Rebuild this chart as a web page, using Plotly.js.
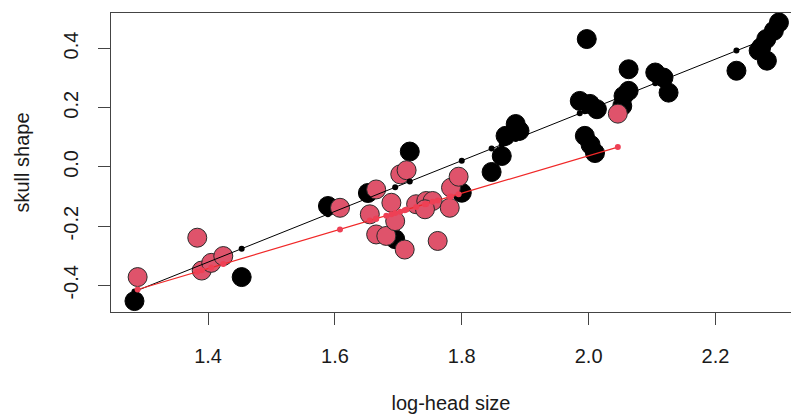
<!DOCTYPE html>
<html>
<head>
<meta charset="utf-8">
<script src="https://cdn.plot.ly/plotly-3.0.1.min.js"></script>
<style>html,body{margin:0;padding:0;background:#fff}#chart{width:791px;height:414px}</style>
</head>
<body>
<div id="chart"></div>
<script>
// Group 1 (black)
const blackX = [1.284, 1.453, 1.589, 1.652, 1.718, 1.695, 1.800, 1.847, 1.863, 1.869, 1.885, 1.891,
  1.986, 2.002, 2.013, 1.994, 2.003, 2.010, 1.997, 2.063, 2.063, 2.055, 2.053, 2.105, 2.118, 2.126,
  2.233, 2.300, 2.292, 2.280, 2.272, 2.281, 2.268];
const blackY = [-0.453, -0.372, -0.132, -0.088, 0.052, -0.244, -0.087, -0.017, 0.037, 0.105, 0.145, 0.122,
  0.223, 0.213, 0.195, 0.105, 0.075, 0.047, 0.432, 0.330, 0.257, 0.240, 0.206, 0.319, 0.302, 0.251,
  0.325, 0.488, 0.460, 0.432, 0.404, 0.359, 0.393];
const blackFit = [-0.421, -0.276, -0.160, -0.106, -0.049, -0.069, 0.021, 0.062, 0.075, 0.081, 0.094, 0.099,
  0.181, 0.195, 0.204, 0.188, 0.196, 0.202, 0.190, 0.247, 0.247, 0.240, 0.238, 0.283, 0.294, 0.301,
  0.393, 0.450, 0.444, 0.433, 0.426, 0.434, 0.423];

// Group 2 (pink)
const pinkX = [1.289, 1.383, 1.390, 1.405, 1.424, 1.608, 1.665, 1.703, 1.713, 1.689, 1.655, 1.665,
  1.681, 1.710, 1.695, 1.762, 1.728, 1.744, 1.754, 1.742, 1.783, 1.781, 1.795, 2.046];
const pinkY = [-0.372, -0.239, -0.350, -0.324, -0.301, -0.138, -0.076, -0.025, -0.011, -0.121, -0.160, -0.228,
  -0.233, -0.279, -0.183, -0.250, -0.126, -0.115, -0.115, -0.143, -0.070, -0.138, -0.033, 0.180];
const pinkFit = [-0.414, -0.354, -0.349, -0.340, -0.328, -0.211, -0.175, -0.151, -0.144, -0.160, -0.181, -0.175,
  -0.165, -0.146, -0.156, -0.113, -0.135, -0.125, -0.118, -0.126, -0.100, -0.101, -0.092, 0.067];

const xTicks = [1.4, 1.6, 1.8, 2.0, 2.2];
const xTickText = ['1.4', '1.6', '1.8', '2.0', '2.2'];
const yTicks = [-0.4, -0.2, 0.0, 0.2, 0.4];
const yTickText = ['-0.4', '-0.2', '0.0', '0.2', '0.4'];

function sortedPairs(xs, ys) {
  const idx = xs.map((_, i) => i).sort((a, b) => xs[a] - xs[b]);
  return { x: idx.map(i => xs[i]), y: idx.map(i => ys[i]) };
}
const bf = sortedPairs(blackX, blackFit);
const pf = sortedPairs(pinkX, pinkFit);

const traces = [
  { x: blackX, y: blackY, type: 'scatter', mode: 'markers',
    marker: { size: 19, color: '#000000', line: { color: '#000000', width: 1 } }, hoverinfo: 'skip' },
  { x: pinkX, y: pinkY, type: 'scatter', mode: 'markers',
    marker: { size: 19, color: '#DF536B', line: { color: '#2a2a2a', width: 1 } }, hoverinfo: 'skip' },
  { x: bf.x, y: bf.y, type: 'scatter', mode: 'lines+markers',
    line: { color: '#000000', width: 1 }, marker: { size: 6, color: '#000000' }, hoverinfo: 'skip' },
  { x: pf.x, y: pf.y, type: 'scatter', mode: 'lines+markers',
    line: { color: '#f02828', width: 1.2 }, marker: { size: 6, color: '#ee4055' }, hoverinfo: 'skip' }
];

const fontFam = '"Liberation Sans", Arial, sans-serif';
const layout = {
  width: 791, height: 414,
  margin: { l: 111, r: 0, t: 13, b: 102 },
  paper_bgcolor: '#ffffff', plot_bgcolor: '#ffffff',
  showlegend: false,
  font: { family: fontFam, size: 20, color: '#1a1a1a' },
  xaxis: {
    range: [1.247, 2.319], tickmode: 'array', tickvals: xTicks, ticktext: xTickText,
    showgrid: false, zeroline: false, showline: true, mirror: true, linecolor: '#444', linewidth: 1,
    ticks: 'outside', ticklen: 12, tickcolor: '#444', tickwidth: 1, ticklabelstandoff: 14,
    tickfont: { family: fontFam, size: 20, color: '#1a1a1a' },
    title: { text: 'log-head size', font: { family: fontFam, size: 20, color: '#1a1a1a' }, standoff: 33 },
    automargin: false
  },
  yaxis: {
    range: [-0.49, 0.52], tickmode: 'array', tickvals: yTicks, ticktext: yTickText, tickangle: -90,
    showgrid: false, zeroline: false, showline: true, mirror: true, linecolor: '#444', linewidth: 1,
    ticks: 'outside', ticklen: 12, tickcolor: '#444', tickwidth: 1, ticklabelstandoff: 12,
    tickfont: { family: fontFam, size: 20, color: '#1a1a1a' },
    title: { text: 'skull shape', font: { family: fontFam, size: 20, color: '#1a1a1a' }, standoff: 25 },
    automargin: false
  }
};

Plotly.newPlot('chart', traces, layout, { staticPlot: true, displayModeBar: false });
</script>
</body>
</html>
